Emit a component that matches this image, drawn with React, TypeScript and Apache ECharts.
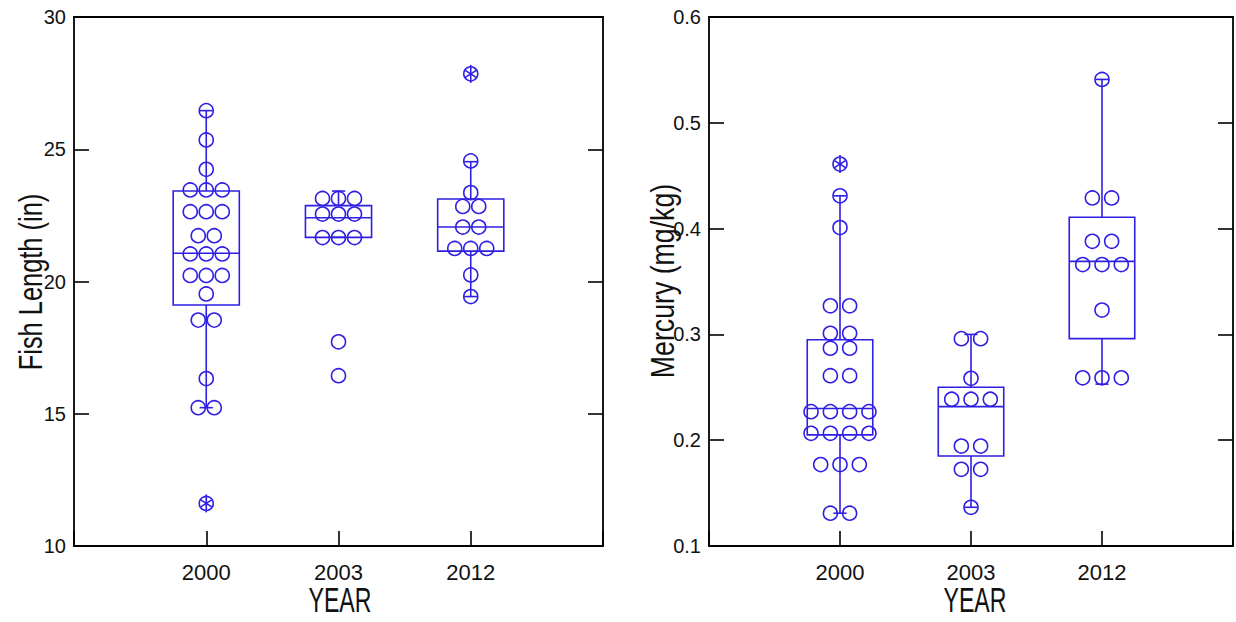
import React, { useEffect, useRef } from 'react';
import * as echarts from 'echarts';

const years = ['2000', '2003', '2012'];

// Fish length (in): one entry per fish (dot)
const length2000 = [26.46, 25.35, 24.24, 23.46, 23.46, 23.46, 22.64, 22.64, 22.64, 21.73, 21.73, 21.04, 21.04, 21.04, 20.23, 20.23, 20.23, 19.53, 18.54, 18.54, 16.33, 15.23, 15.23, 11.61];
const length2003 = [23.14, 23.14, 23.14, 22.55, 22.55, 22.55, 21.66, 21.66, 21.66, 17.72, 16.44];
const length2012 = [27.85, 24.56, 23.36, 22.84, 22.84, 22.06, 22.06, 21.25, 21.25, 21.25, 20.25, 19.43];
// outside values drawn with an asterisk
const lengthStars2000 = [11.61];
const lengthStars2003: number[] = [];
const lengthStars2012 = [27.85];
// box stats: [lower whisker, Q1, median, Q3, upper whisker]
const lengthBox2000 = [15.23, 19.11, 21.07, 23.42, 26.46];
const lengthBox2003 = [21.67, 21.67, 22.41, 22.87, 23.42];
const lengthBox2012 = [19.43, 21.15, 22.06, 23.12, 24.53];

// Mercury (mg/kg)
const mercury2000 = [0.461, 0.431, 0.401, 0.327, 0.327, 0.301, 0.301, 0.287, 0.287, 0.261, 0.261, 0.227, 0.227, 0.227, 0.227, 0.2065, 0.2065, 0.2065, 0.2065, 0.177, 0.177, 0.177, 0.131, 0.131];
const mercury2003 = [0.296, 0.296, 0.2585, 0.2387, 0.2387, 0.2387, 0.1945, 0.1945, 0.1725, 0.1725, 0.1366];
const mercury2012 = [0.541, 0.429, 0.429, 0.388, 0.388, 0.366, 0.366, 0.366, 0.323, 0.259, 0.259, 0.259];
const mercuryStars2000 = [0.461];
const mercuryStars2003: number[] = [];
const mercuryStars2012: number[] = [];
const mercuryBox2000 = [0.131, 0.205, 0.230, 0.295, 0.431];
const mercuryBox2003 = [0.1366, 0.185, 0.2317, 0.250, 0.300];
const mercuryBox2012 = [0.253, 0.296, 0.369, 0.4107, 0.541];

const lengthTicks = { min: 10, max: 30, interval: 5 };
const mercuryTicks = { min: 0.1, max: 0.6, interval: 0.1 };

const xTitle = 'YEAR';
const lengthTitle = 'Fish Length (in)';
const mercuryTitle = 'Mercury (mg/kg)';

const BLUE = '#2f1fe3';
const FONT = "'Liberation Sans', Arial, sans-serif";

function dotData(groups: number[][], stars: number[][]) {
  const out: number[][] = [];
  groups.forEach((vals, i) => {
    const counts: Record<string, number> = {};
    vals.forEach((v) => { counts[String(v)] = (counts[String(v)] || 0) + 1; });
    const seen: Record<string, number> = {};
    vals.forEach((v) => {
      const k = String(v);
      const n = counts[k];
      const idx = seen[k] || 0;
      seen[k] = idx + 1;
      const starred = stars[i].includes(v) ? 1 : 0;
      out.push([i + 1, v, idx - (n - 1) / 2, starred]);
    });
  });
  return out;
}

function boxData(boxes: number[][]) {
  return boxes.map((b, i) => [i + 1, ...b]);
}

const lineStyle = { stroke: BLUE, lineWidth: 1.6, fill: 'none' };

function makeDotRender(spacing: number) {
  return (params: any, api: any) => {
    const c = api.coord([api.value(0), api.value(1)]);
    const cx = c[0] + api.value(2) * spacing;
    const cy = c[1];
    const children: any[] = [
      { type: 'circle', shape: { cx, cy, r: 7 }, style: { ...lineStyle } },
    ];
    if (api.value(3) === 1) {
      children.push({ type: 'line', shape: { x1: cx, y1: cy - 9, x2: cx, y2: cy + 9 }, style: { ...lineStyle } });
      children.push({ type: 'line', shape: { x1: cx - 5.5, y1: cy - 3.5, x2: cx + 5.5, y2: cy + 3.5 }, style: { ...lineStyle } });
      children.push({ type: 'line', shape: { x1: cx - 5.5, y1: cy + 3.5, x2: cx + 5.5, y2: cy - 3.5 }, style: { ...lineStyle } });
    }
    return { type: 'group', children };
  };
}

function boxRender(params: any, api: any) {
  const x = api.value(0);
  const lo = api.coord([x, api.value(1)]);
  const q1 = api.coord([x, api.value(2)]);
  const md = api.coord([x, api.value(3)]);
  const q3 = api.coord([x, api.value(4)]);
  const hi = api.coord([x, api.value(5)]);
  const half = api.size([0.5, 0])[0] / 2;
  const cap = api.size([0.1, 0])[0] / 2;
  const cx = lo[0];
  const st = { ...lineStyle };
  return {
    type: 'group',
    children: [
      { type: 'rect', shape: { x: cx - half, y: q3[1], width: half * 2, height: q1[1] - q3[1] }, style: st },
      { type: 'line', shape: { x1: cx - half, y1: md[1], x2: cx + half, y2: md[1] }, style: st },
      { type: 'line', shape: { x1: cx, y1: q3[1], x2: cx, y2: hi[1] }, style: st },
      { type: 'line', shape: { x1: cx, y1: q1[1], x2: cx, y2: lo[1] }, style: st },
      { type: 'line', shape: { x1: cx - cap, y1: hi[1], x2: cx + cap, y2: hi[1] }, style: st },
      { type: 'line', shape: { x1: cx - cap, y1: lo[1], x2: cx + cap, y2: lo[1] }, style: st },
    ],
  };
}

const axisLine = { show: true, onZero: false, lineStyle: { color: '#000', width: 1.8 } };
const tickStyle = { color: '#000', width: 1.6 };

function xAxes(grid: number) {
  return [
    {
      gridIndex: grid, type: 'value', min: 0, max: 4, interval: 1, position: 'bottom',
      axisLine,
      axisTick: { show: true, inside: true, length: 15, lineStyle: tickStyle },
      axisLabel: { formatter: (v: number) => years[v - 1] ?? '', fontSize: 22, margin: 15, color: '#111', fontFamily: FONT },
      splitLine: { show: false },
    },
    {
      gridIndex: grid, type: 'value', min: 0, max: 4, interval: 1, position: 'top',
      axisLine, axisTick: { show: false }, axisLabel: { show: false }, splitLine: { show: false },
    },
  ];
}

function yAxes(grid: number, t: { min: number; max: number; interval: number }, decimals: number) {
  return [
    {
      gridIndex: grid, type: 'value', min: t.min, max: t.max, interval: t.interval, position: 'left',
      axisLine,
      axisTick: { show: true, inside: true, length: 15, lineStyle: tickStyle },
      axisLabel: { formatter: (v: number) => v.toFixed(decimals), fontSize: 20, margin: 8, color: '#111', fontFamily: FONT, padding: [6, 0, 0, 0] },
      splitLine: { show: false },
    },
    {
      gridIndex: grid, type: 'value', min: t.min, max: t.max, interval: t.interval, position: 'right',
      axisLine,
      axisTick: { show: true, inside: true, length: 15, lineStyle: tickStyle },
      axisLabel: { show: false }, splitLine: { show: false },
    },
  ];
}

function title(text: string, x: number, y: number, size: number, sx: number, rotated: boolean) {
  return {
    type: 'text', x, y, rotation: rotated ? Math.PI / 2 : 0, scaleX: sx, scaleY: 1, z: 10,
    style: {
      text, fill: '#111', font: `${size}px ${FONT}`,
      textAlign: 'center', textVerticalAlign: 'middle',
    },
  };
}

export default function App() {
  const ref = useRef<HTMLDivElement>(null);
  useEffect(() => {
    if (!ref.current) return;
    const chart = echarts.init(ref.current, null, { renderer: 'svg' });
    chart.setOption({
      animation: false,
      backgroundColor: '#fff',
      grid: [
        { left: 74, top: 17, width: 529, height: 529 },
        { left: 709, top: 17, width: 530, height: 529 },
      ],
      xAxis: [...xAxes(0), ...xAxes(1)],
      yAxis: [...yAxes(0, lengthTicks, 0), ...yAxes(1, mercuryTicks, 1)],
      graphic: [
        title(xTitle, 340, 600, 35, 0.66, false),
        title(xTitle, 975, 600, 35, 0.66, false),
        title(lengthTitle, 30, 282, 33, 0.77, true),
        title(mercuryTitle, 662, 281, 33, 0.81, true),
      ],
      series: [
        {
          type: 'custom', xAxisIndex: 0, yAxisIndex: 0, renderItem: boxRender, clip: false,
          encode: { x: 0, y: [1, 2, 3, 4, 5] },
          data: boxData([lengthBox2000, lengthBox2003, lengthBox2012]),
        },
        {
          type: 'custom', xAxisIndex: 0, yAxisIndex: 0, renderItem: makeDotRender(16), clip: false,
          encode: { x: 0, y: 1 },
          data: dotData([length2000, length2003, length2012], [lengthStars2000, lengthStars2003, lengthStars2012]),
        },
        {
          type: 'custom', xAxisIndex: 2, yAxisIndex: 2, renderItem: boxRender, clip: false,
          encode: { x: 0, y: [1, 2, 3, 4, 5] },
          data: boxData([mercuryBox2000, mercuryBox2003, mercuryBox2012]),
        },
        {
          type: 'custom', xAxisIndex: 2, yAxisIndex: 2, renderItem: makeDotRender(19.3), clip: false,
          encode: { x: 0, y: 1 },
          data: dotData([mercury2000, mercury2003, mercury2012], [mercuryStars2000, mercuryStars2003, mercuryStars2012]),
        },
      ],
    });
    return () => chart.dispose();
  }, []);
  return (
    <div style={{ position: 'absolute', left: 0, top: 0, width: 1236, height: 622, overflow: 'hidden', background: '#fff' }}>
      <div ref={ref} style={{ width: 1236, height: 622 }} />
    </div>
  );
}
